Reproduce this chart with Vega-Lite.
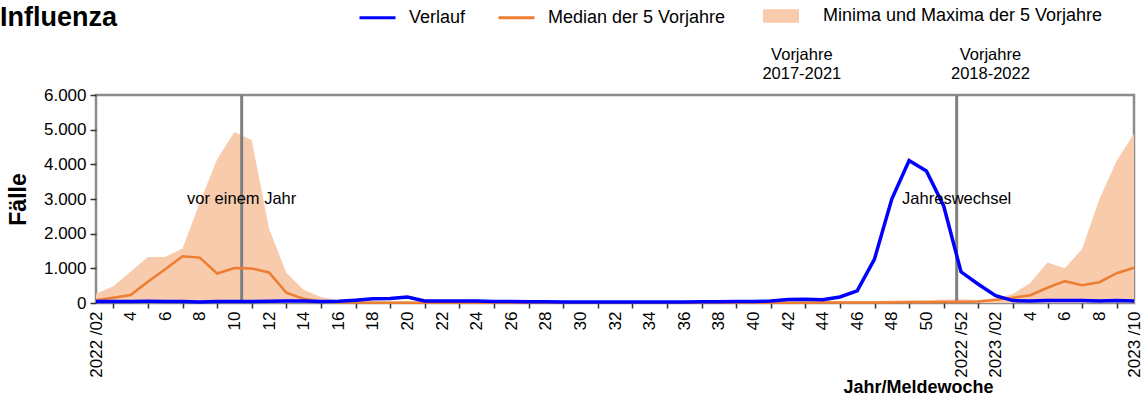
{
  "$schema": "https://vega.github.io/schema/vega-lite/v6.json",
  "width": 1038,
  "height": 208,
  "autosize": {"type": "none"},
  "padding": {"left": 96, "top": 95, "right": 10, "bottom": 97},
  "background": "white",
  "config": {
    "font": "Liberation Sans",
    "view": {"stroke": "#8c8c8c", "strokeWidth": 2.5},
    "locale": {"number": {"decimal": ",", "thousands": ".", "grouping": [3], "currency": ["", " €"]}},
    "axisY": {
      "values": [0, 1000, 2000, 3000, 4000, 5000, 6000],
      "format": ",d",
      "labelFontSize": 17,
      "labelColor": "#000000",
      "labelPadding": 4,
      "labelFlush": false,
      "tickSize": 6,
      "tickColor": "#333333",
      "tickWidth": 1.5,
      "domain": false,
      "grid": false,
      "titleFontSize": 23,
      "titleFontWeight": "bold",
      "titleColor": "#000000",
      "titleX": -78,
      "titleY": 104,
      "titleAngle": 270,
      "titleAlign": "center",
      "titleBaseline": "middle"
    }
  },
  "title": {"text": "Influenza", "orient": "none", "anchor": "start", "frame": "group", "fontSize": 27, "fontWeight": "bold", "color": "#000000", "dx": -96, "dy": -69, "baseline": "alphabetic"},
  "datasets": {
    "weeks": [
      {"t": 0, "kw": "2022/02", "verlauf": 40, "median": 80, "min": 0, "max": 270},
      {"t": 1, "kw": "2022/03", "verlauf": 40, "median": 150, "min": 0, "max": 480},
      {"t": 2, "kw": "2022/04", "verlauf": 45, "median": 230, "min": 0, "max": 900},
      {"t": 3, "kw": "2022/05", "verlauf": 50, "median": 610, "min": 0, "max": 1330},
      {"t": 4, "kw": "2022/06", "verlauf": 45, "median": 975, "min": 0, "max": 1330},
      {"t": 5, "kw": "2022/07", "verlauf": 40, "median": 1350, "min": 0, "max": 1570},
      {"t": 6, "kw": "2022/08", "verlauf": 30, "median": 1310, "min": 0, "max": 2900},
      {"t": 7, "kw": "2022/09", "verlauf": 40, "median": 850, "min": 0, "max": 4150},
      {"t": 8, "kw": "2022/10", "verlauf": 40, "median": 1010, "min": 0, "max": 4930},
      {"t": 9, "kw": "2022/11", "verlauf": 40, "median": 995, "min": 0, "max": 4700},
      {"t": 10, "kw": "2022/12", "verlauf": 50, "median": 880, "min": 0, "max": 2150},
      {"t": 11, "kw": "2022/13", "verlauf": 60, "median": 300, "min": 0, "max": 870},
      {"t": 12, "kw": "2022/14", "verlauf": 60, "median": 120, "min": 0, "max": 380},
      {"t": 13, "kw": "2022/15", "verlauf": 40, "median": 40, "min": 0, "max": 170},
      {"t": 14, "kw": "2022/16", "verlauf": 50, "median": 20, "min": 0, "max": 80},
      {"t": 15, "kw": "2022/17", "verlauf": 80, "median": 15, "min": 0, "max": 45},
      {"t": 16, "kw": "2022/18", "verlauf": 120, "median": 10, "min": 0, "max": 30},
      {"t": 17, "kw": "2022/19", "verlauf": 130, "median": 10, "min": 0, "max": 25},
      {"t": 18, "kw": "2022/20", "verlauf": 170, "median": 10, "min": 0, "max": 25},
      {"t": 19, "kw": "2022/21", "verlauf": 60, "median": 8, "min": 0, "max": 20},
      {"t": 20, "kw": "2022/22", "verlauf": 60, "median": 8, "min": 0, "max": 18},
      {"t": 21, "kw": "2022/23", "verlauf": 55, "median": 7, "min": 0, "max": 16},
      {"t": 22, "kw": "2022/24", "verlauf": 60, "median": 7, "min": 0, "max": 15},
      {"t": 23, "kw": "2022/25", "verlauf": 45, "median": 6, "min": 0, "max": 14},
      {"t": 24, "kw": "2022/26", "verlauf": 40, "median": 6, "min": 0, "max": 14},
      {"t": 25, "kw": "2022/27", "verlauf": 35, "median": 5, "min": 0, "max": 12},
      {"t": 26, "kw": "2022/28", "verlauf": 35, "median": 5, "min": 0, "max": 12},
      {"t": 27, "kw": "2022/29", "verlauf": 30, "median": 5, "min": 0, "max": 12},
      {"t": 28, "kw": "2022/30", "verlauf": 30, "median": 5, "min": 0, "max": 12},
      {"t": 29, "kw": "2022/31", "verlauf": 30, "median": 5, "min": 0, "max": 12},
      {"t": 30, "kw": "2022/32", "verlauf": 30, "median": 5, "min": 0, "max": 12},
      {"t": 31, "kw": "2022/33", "verlauf": 30, "median": 5, "min": 0, "max": 12},
      {"t": 32, "kw": "2022/34", "verlauf": 30, "median": 5, "min": 0, "max": 12},
      {"t": 33, "kw": "2022/35", "verlauf": 30, "median": 5, "min": 0, "max": 14},
      {"t": 34, "kw": "2022/36", "verlauf": 30, "median": 6, "min": 0, "max": 14},
      {"t": 35, "kw": "2022/37", "verlauf": 35, "median": 6, "min": 0, "max": 15},
      {"t": 36, "kw": "2022/38", "verlauf": 35, "median": 7, "min": 0, "max": 18},
      {"t": 37, "kw": "2022/39", "verlauf": 40, "median": 7, "min": 0, "max": 20},
      {"t": 38, "kw": "2022/40", "verlauf": 45, "median": 8, "min": 0, "max": 22},
      {"t": 39, "kw": "2022/41", "verlauf": 55, "median": 9, "min": 0, "max": 25},
      {"t": 40, "kw": "2022/42", "verlauf": 100, "median": 10, "min": 0, "max": 30},
      {"t": 41, "kw": "2022/43", "verlauf": 110, "median": 10, "min": 0, "max": 35},
      {"t": 42, "kw": "2022/44", "verlauf": 95, "median": 12, "min": 0, "max": 40},
      {"t": 43, "kw": "2022/45", "verlauf": 175, "median": 12, "min": 0, "max": 45},
      {"t": 44, "kw": "2022/46", "verlauf": 350, "median": 14, "min": 0, "max": 55},
      {"t": 45, "kw": "2022/47", "verlauf": 1270, "median": 15, "min": 0, "max": 60},
      {"t": 46, "kw": "2022/48", "verlauf": 3000, "median": 17, "min": 0, "max": 70},
      {"t": 47, "kw": "2022/49", "verlauf": 4110, "median": 20, "min": 0, "max": 80},
      {"t": 48, "kw": "2022/50", "verlauf": 3810, "median": 25, "min": 0, "max": 90},
      {"t": 49, "kw": "2022/51", "verlauf": 2800, "median": 28, "min": 0, "max": 100},
      {"t": 50, "kw": "2022/52", "verlauf": 900, "median": 30, "min": 0, "max": 110},
      {"t": 51, "kw": "2023/01", "verlauf": 540, "median": 45, "min": 0, "max": 90},
      {"t": 52, "kw": "2023/02", "verlauf": 210, "median": 90, "min": 0, "max": 140},
      {"t": 53, "kw": "2023/03", "verlauf": 70, "median": 150, "min": 0, "max": 260},
      {"t": 54, "kw": "2023/04", "verlauf": 60, "median": 225, "min": 0, "max": 580},
      {"t": 55, "kw": "2023/05", "verlauf": 70, "median": 440, "min": 0, "max": 1170},
      {"t": 56, "kw": "2023/06", "verlauf": 70, "median": 630, "min": 0, "max": 1000},
      {"t": 57, "kw": "2023/07", "verlauf": 70, "median": 510, "min": 0, "max": 1560},
      {"t": 58, "kw": "2023/08", "verlauf": 60, "median": 600, "min": 0, "max": 3000},
      {"t": 59, "kw": "2023/09", "verlauf": 70, "median": 860, "min": 0, "max": 4100},
      {"t": 60, "kw": "2023/10", "verlauf": 60, "median": 1015, "min": 0, "max": 4880}
    ],
    "markers": [
      {"t": 8.42, "name": "vor einem Jahr"},
      {"t": 49.75, "name": "Jahreswechsel"}
    ],
    "notes": [
      {"t": 8.42, "y": 3000, "text": "vor einem Jahr"},
      {"t": 49.75, "y": 3000, "text": "Jahreswechsel"},
      {"t": 40.8, "y": 7150, "text": "Vorjahre"},
      {"t": 40.8, "y": 6600, "text": "2017-2021"},
      {"t": 51.7, "y": 7150, "text": "Vorjahre"},
      {"t": 51.7, "y": 6600, "text": "2018-2022"}
    ]
  },
  "encoding": {
    "x": {
      "field": "t",
      "type": "quantitative",
      "scale": {"domain": [0, 60], "nice": false, "zero": false},
      "axis": {
        "values": [0,1,2,3,4,5,6,7,8,9,10,11,12,13,14,15,16,17,18,19,20,21,22,23,24,25,26,27,28,29,30,31,32,33,34,35,36,37,38,39,40,41,42,43,44,45,46,47,48,49,50,51,52,53,54,55,56,57,58,59,60],
        "labelExpr": "datum.value == 0 ? '2022 /02' : datum.value == 50 ? '2022 /52' : datum.value == 52 ? '2023 /02' : datum.value == 60 ? '2023 /10' : datum.value % 2 == 1 ? '' : datum.value < 50 ? '' + (datum.value + 2) : '' + (datum.value - 50)",
        "labelAngle": 270,
        "labelAlign": "right",
        "labelBaseline": "middle",
        "labelFontSize": 17,
        "labelColor": "#000000",
        "labelPadding": 3,
        "labelFlush": false,
        "labelOverlap": false,
        "labelBound": false,
        "tickSize": 5,
        "tickColor": "#333333",
        "tickWidth": 1.5,
        "tickOpacity": {"condition": {"test": "datum.value % 2 == 1", "value": 1}, "value": 0},
        "domain": false,
        "grid": false,
        "title": "Jahr/Meldewoche",
        "titleFontSize": 18,
        "titleFontWeight": "bold",
        "titleColor": "#000000",
        "titleX": 822,
        "titleY": 84,
        "titleAlign": "center",
        "titleBaseline": "middle"
      }
    }
  },
  "layer": [
    {
      "data": {"name": "weeks"},
      "mark": {"type": "area", "opacity": 1},
      "encoding": {
        "y": {"field": "max", "type": "quantitative", "scale": {"domain": [0, 6000], "nice": false}, "title": "Fälle"},
        "y2": {"field": "min"},
        "fill": {
          "datum": "Minima und Maxima der 5 Vorjahre",
          "scale": {"domain": ["Minima und Maxima der 5 Vorjahre"], "range": ["#F8CBAD"]},
          "legend": {
            "orient": "none",
            "legendX": 667,
            "legendY": -97,
            "direction": "horizontal",
            "title": null,
            "padding": 0,
            "labelFontSize": 18,
            "labelColor": "#000000",
            "labelLimit": 500,
            "labelOffset": 24,
            "symbolSize": 1296,
            "symbolType": "M-1,-0.38H1V0.38H-1Z",
            "symbolStrokeWidth": 0,
            "symbolOpacity": 1
          }
        }
      }
    },
    {
      "data": {"name": "markers"},
      "mark": {"type": "rule", "color": "#808080", "strokeWidth": 3},
      "encoding": {}
    },
    {
      "data": {"name": "weeks"},
      "mark": {"type": "line", "strokeWidth": 2.5},
      "encoding": {
        "y": {"field": "median", "type": "quantitative", "scale": {"domain": [0, 6000], "nice": false}, "title": "Fälle"},
        "stroke": {
          "datum": "Median der 5 Vorjahre",
          "scale": {"domain": ["Verlauf", "Median der 5 Vorjahre"], "range": ["#0000FF", "#ED7D31"]},
          "legend": {
            "orient": "none",
            "legendX": 262,
            "legendY": -97,
            "direction": "horizontal",
            "title": null,
            "padding": 0,
            "labelFontSize": 18,
            "labelColor": "#000000",
            "labelLimit": 500,
            "labelOffset": 12,
            "columnPadding": 26,
            "symbolSize": 1296,
            "symbolType": "stroke",
            "symbolStrokeWidth": 3,
            "symbolOpacity": 1
          }
        }
      }
    },
    {
      "data": {"name": "weeks"},
      "mark": {"type": "line", "strokeWidth": 3.5},
      "encoding": {
        "y": {"field": "verlauf", "type": "quantitative", "scale": {"domain": [0, 6000], "nice": false}, "title": "Fälle"},
        "stroke": {
          "datum": "Verlauf",
          "scale": {"domain": ["Verlauf", "Median der 5 Vorjahre"], "range": ["#0000FF", "#ED7D31"]},
          "legend": {
            "orient": "none",
            "legendX": 262,
            "legendY": -97,
            "direction": "horizontal",
            "title": null,
            "padding": 0,
            "labelFontSize": 18,
            "labelColor": "#000000",
            "labelLimit": 500,
            "labelOffset": 12,
            "columnPadding": 26,
            "symbolSize": 1296,
            "symbolType": "stroke",
            "symbolStrokeWidth": 3,
            "symbolOpacity": 1
          }
        }
      }
    },
    {
      "data": {"name": "notes"},
      "mark": {"type": "text", "fontSize": 16.5, "color": "#000000", "align": "center", "baseline": "middle"},
      "encoding": {
        "y": {"field": "y", "type": "quantitative", "scale": {"domain": [0, 6000], "nice": false}, "title": "Fälle"},
        "text": {"field": "text"}
      }
    }
  ]
}
